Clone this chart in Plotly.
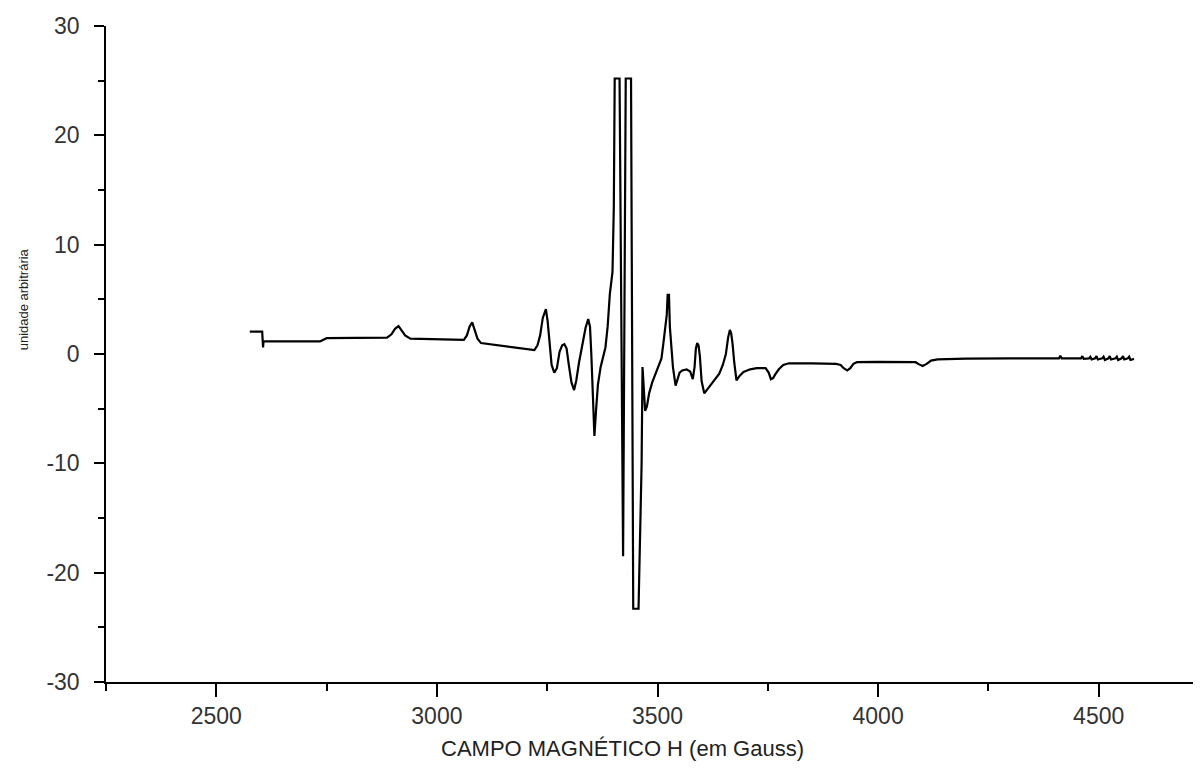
import plotly.graph_objects as go

# Magnetic field (Gauss) and signal (arbitrary units)
field = [2576, 2590, 2604, 2606, 2607, 2650, 2700, 2735, 2750, 2800, 2850, 2887,
         2897, 2905, 2913, 2920, 2928, 2940, 2980, 3020, 3061, 3068, 3074, 3080,
         3085, 3092, 3100, 3137, 3190, 3221, 3228, 3234, 3240, 3247, 3251, 3255,
         3260, 3266, 3272, 3278, 3284, 3289, 3294, 3299, 3305, 3311, 3316, 3322,
         3330, 3337, 3343, 3347, 3350, 3354, 3357, 3361, 3365, 3371, 3377, 3382,
         3387, 3392, 3398, 3401, 3403, 3410, 3414, 3422, 3428, 3440, 3445, 3457,
         3464, 3466, 3468, 3472, 3476, 3481, 3488, 3495, 3503, 3509, 3514, 3518,
         3521, 3523, 3526, 3528, 3531, 3535, 3541, 3545, 3550, 3556, 3566, 3574,
         3580, 3584, 3587, 3590, 3593, 3596, 3600, 3606, 3612, 3622, 3632, 3640,
         3648, 3655, 3660, 3664, 3667, 3670, 3674, 3679, 3686, 3695, 3710, 3725,
         3745, 3752, 3757, 3762, 3768, 3775, 3785, 3798, 3850, 3905, 3915, 3922,
         3930, 3937, 3944, 3952, 4000, 4085, 4093, 4101, 4110, 4120, 4135, 4200,
         4300, 4410, 4413, 4416, 4440, 4460, 4463, 4466, 4478, 4481, 4484, 4492,
         4495, 4498, 4508, 4511, 4514, 4522, 4525, 4528, 4538, 4541, 4544, 4552,
         4555, 4558, 4566, 4569, 4572, 4580]
signal = [2.05, 2.05, 2.05, 0.6, 1.15, 1.15, 1.15, 1.15, 1.45, 1.45, 1.5, 1.5,
          1.8, 2.3, 2.55, 2.2, 1.7, 1.4, 1.35, 1.3, 1.3, 1.7, 2.5, 2.9,
          2.3, 1.4, 1.0, 0.8, 0.5, 0.35, 0.8, 1.7, 3.3, 4.1, 3.0, 1.0,
          -1.0, -1.7, -1.3, 0.2, 0.8, 0.9, 0.5, -1.0, -2.6, -3.3, -2.4, -0.8,
          0.8, 2.4, 3.2, 2.5, 0.0, -4.5, -7.5, -5.0, -2.8, -1.2, -0.3, 0.6,
          2.5, 5.5, 7.5, 13.5, 25.2, 25.2, 25.2, -18.5, 25.2, 25.2, -23.3, -23.3,
          -10.0, -1.2, -2.8, -5.2, -4.8, -3.6, -2.6, -1.8, -1.0, -0.4, 1.2, 2.8,
          3.6, 5.4, 5.4, 2.5, 0.5, -1.2, -2.9, -2.4, -1.7, -1.5, -1.4, -1.6,
          -2.3, -1.2, 0.5, 1.0, 0.8, -0.2, -2.5, -3.6, -3.3, -2.8, -2.3, -1.8,
          -1.0, 0.0, 1.5, 2.2, 1.9, 1.0, -0.8, -2.4, -2.0, -1.65, -1.4, -1.3,
          -1.3, -1.7, -2.3, -2.2, -1.8, -1.4, -1.0, -0.85, -0.85, -0.9, -1.0, -1.3,
          -1.5, -1.3, -0.9, -0.75, -0.72, -0.75, -0.95, -1.1, -0.9, -0.6, -0.5, -0.42,
          -0.4, -0.4, -0.15, -0.4, -0.4, -0.4, -0.2, -0.45, -0.4, -0.25, -0.5, -0.4,
          -0.2, -0.5, -0.4, -0.25, -0.55, -0.4, -0.2, -0.5, -0.4, -0.25, -0.55, -0.4,
          -0.2, -0.5, -0.4, -0.25, -0.55, -0.45]

x_ticks = [2500, 3000, 3500, 4000, 4500]
y_ticks = [-30, -20, -10, 0, 10, 20, 30]

fig = go.Figure()
fig.add_trace(go.Scatter(x=field, y=signal, mode="lines",
                         line=dict(color="black", width=2.2), showlegend=False))

font_family = "Liberation Sans, Arial, sans-serif"

fig.update_layout(
    width=1201, height=771,
    margin=dict(l=98, r=0, t=18, b=97),
    plot_bgcolor="white", paper_bgcolor="white",
    font=dict(family=font_family, color="#222"),
)
fig.update_xaxes(
    range=[2250, 4750], tickvals=x_ticks, ticktext=[str(v) for v in x_ticks],
    showgrid=False, zeroline=False, showline=True, linecolor="black", linewidth=1.5,
    ticks="outside", ticklen=13, tickwidth=1.5, tickcolor="black",
    minor=dict(tick0=2250, dtick=250, ticks="outside", ticklen=7, tickwidth=1.5, tickcolor="black"),
    tickfont=dict(size=23, color="#333"), ticklabelstandoff=0,
)
fig.update_yaxes(
    range=[-30, 30], tickvals=y_ticks, ticktext=[str(v) for v in y_ticks],
    showgrid=False, zeroline=False, showline=True, linecolor="black", linewidth=1.5,
    ticks="outside", ticklen=10, tickwidth=1.5, tickcolor="black",
    minor=dict(dtick=5, ticks="outside", ticklen=6, tickwidth=1.5, tickcolor="black"),
    tickfont=dict(size=23, color="#333"), ticklabelstandoff=10,
)
fig.add_annotation(
    text="CAMPO MAGNÉTICO H (em Gauss)", showarrow=False,
    xref="x", yref="paper", x=3420, y=0, xanchor="center", yanchor="middle",
    yshift=-66, font=dict(size=22, color="#222"),
)
fig.add_annotation(
    text="unidade arbitrária", textangle=-90, showarrow=False,
    xref="paper", yref="y", x=0, y=5, xanchor="center", yanchor="middle",
    xshift=-83, font=dict(size=13, color="#222"),
)

fig.write_html("out.html")
